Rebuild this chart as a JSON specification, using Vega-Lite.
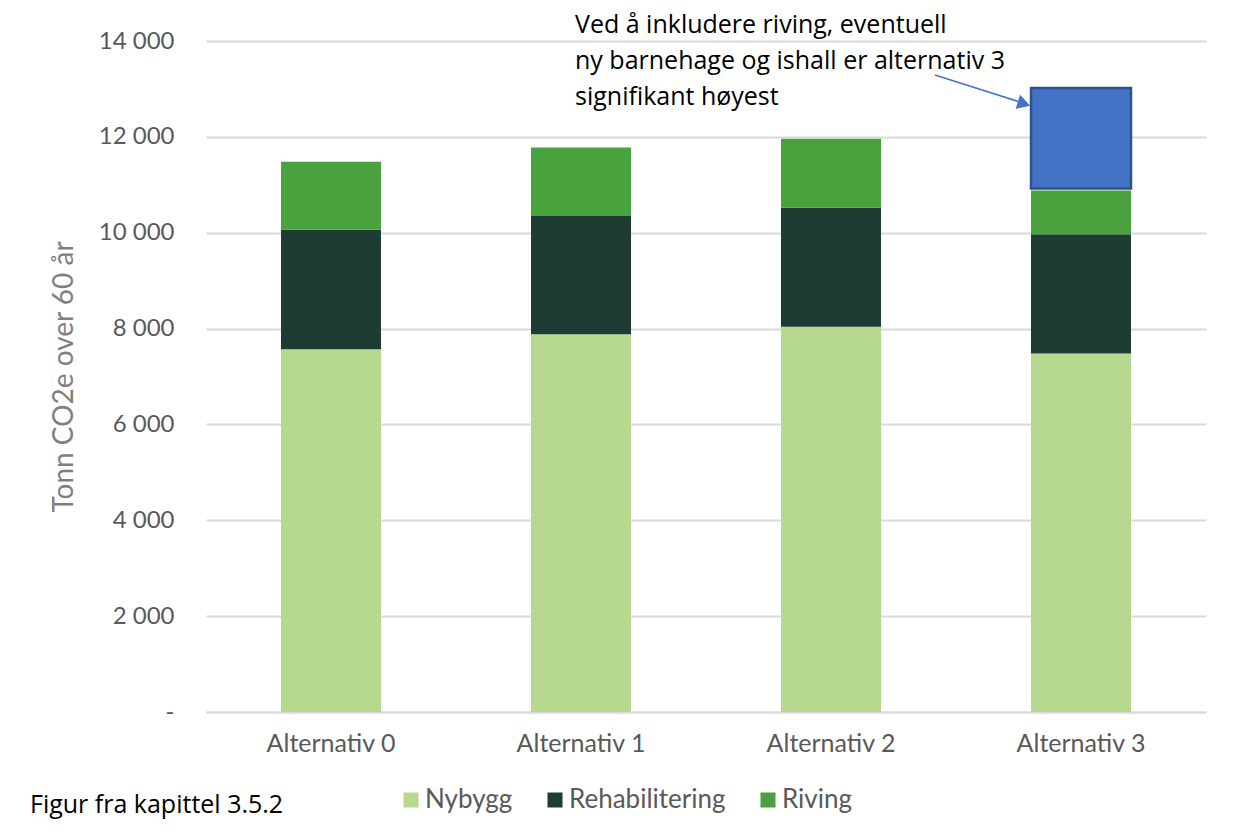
{
  "$schema": "https://vega.github.io/schema/vega-lite/v6.json",
  "width": 1000,
  "height": 671,
  "autosize": "none",
  "padding": {"left": 206, "top": 41, "right": 32, "bottom": 126},
  "background": "white",
  "config": {
    "view": {"stroke": null},
    "font": "Lato"
  },
  "datasets": {
    "bars": [
      {"alternativ": "Alternativ 0", "kategori": "Nybygg", "tonn": 7570},
      {"alternativ": "Alternativ 0", "kategori": "Rehabilitering", "tonn": 2490},
      {"alternativ": "Alternativ 0", "kategori": "Riving", "tonn": 1420},
      {"alternativ": "Alternativ 1", "kategori": "Nybygg", "tonn": 7880},
      {"alternativ": "Alternativ 1", "kategori": "Rehabilitering", "tonn": 2470},
      {"alternativ": "Alternativ 1", "kategori": "Riving", "tonn": 1430},
      {"alternativ": "Alternativ 2", "kategori": "Nybygg", "tonn": 8040},
      {"alternativ": "Alternativ 2", "kategori": "Rehabilitering", "tonn": 2480},
      {"alternativ": "Alternativ 2", "kategori": "Riving", "tonn": 1440},
      {"alternativ": "Alternativ 3", "kategori": "Nybygg", "tonn": 7480},
      {"alternativ": "Alternativ 3", "kategori": "Rehabilitering", "tonn": 2490},
      {"alternativ": "Alternativ 3", "kategori": "Riving", "tonn": 910}
    ],
    "tillegg": [
      {"alternativ": "Alternativ 3", "fra": 10920, "til": 13020}
    ],
    "pil": [
      {"u": 2.916, "v": 13290, "u2": 3.26, "v2": 12720}
    ],
    "pilhode": [
      {"u": 3.272, "v": 12690}
    ],
    "tekst": [
      {"u": 1.476, "v": 14334, "tekst": "Ved å inkludere riving, eventuell\nny barnehage og ishall er alternativ 3\nsignifikant høyest"},
      {"u": -0.704, "v": -1948, "tekst": "Figur fra kapittel 3.5.2"}
    ]
  },
  "layer": [
    {
      "data": {"name": "bars"},
      "mark": {"type": "bar"},
      "encoding": {
        "x": {
          "field": "alternativ",
          "type": "nominal",
          "scale": {"domain": ["Alternativ 0", "Alternativ 1", "Alternativ 2", "Alternativ 3"], "paddingInner": 0.6, "paddingOuter": 0.3},
          "axis": {
            "title": null,
            "labelAngle": 0,
            "labelFontSize": 25,
            "labelColor": "#595959",
            "labelPadding": 19,
            "ticks": false,
            "domainColor": "#d9d9d9",
            "domainWidth": 2
          }
        },
        "y": {
          "field": "tonn",
          "type": "quantitative",
          "stack": "zero",
          "scale": {"domain": [0, 14000], "nice": false},
          "axis": {
            "title": "Tonn CO2e over 60 år",
            "titleFontSize": 28,
            "titleFontWeight": "normal",
            "titleColor": "#7f7f7f",
            "titlePadding": 20,
            "values": [0, 2000, 4000, 6000, 8000, 10000, 12000, 14000],
            "labelExpr": "datum.value == 0 ? '-   ' : replace(format(datum.value, ','), ',', ' ')",
            "labelFontSize": 24,
            "labelColor": "#595959",
            "labelPadding": 32,
            "ticks": false,
            "domain": false,
            "gridColor": "#d9d9d9",
            "gridWidth": 2
          }
        },
        "order": {"field": "kategori", "sort": "ascending"},
        "color": {
          "field": "kategori",
          "type": "nominal",
          "scale": {"domain": ["Nybygg", "Rehabilitering", "Riving"], "range": ["#b6d98f", "#1f3c34", "#4aa23f"]},
          "legend": {
            "title": null,
            "orient": "none",
            "direction": "horizontal",
            "legendX": 192,
            "legendY": 746,
            "symbolType": "square",
            "symbolSize": 225,
            "symbolStrokeWidth": 0,
            "labelFontSize": 26,
            "labelColor": "#595959",
            "labelOffset": 1,
            "columnPadding": 29
          }
        }
      }
    },
    {
      "data": {"name": "tillegg"},
      "mark": {"type": "bar", "color": "#4472c4", "stroke": "#2f528f", "strokeWidth": 2.5},
      "encoding": {
        "x": {
          "field": "alternativ",
          "type": "nominal",
          "scale": {"domain": ["Alternativ 0", "Alternativ 1", "Alternativ 2", "Alternativ 3"], "paddingInner": 0.6, "paddingOuter": 0.3},
          "axis": null
        },
        "y": {"field": "fra", "type": "quantitative"},
        "y2": {"field": "til"}
      }
    },
    {
      "data": {"name": "pil"},
      "mark": {"type": "rule", "color": "#4472c4", "strokeWidth": 1.5},
      "encoding": {
        "x": {"field": "u", "type": "quantitative", "scale": {"domain": [0, 4], "nice": false, "zero": false}, "axis": null},
        "y": {"field": "v", "type": "quantitative"},
        "x2": {"field": "u2"},
        "y2": {"field": "v2"}
      }
    },
    {
      "data": {"name": "pilhode"},
      "mark": {"type": "point", "shape": "triangle-right", "filled": true, "color": "#4472c4", "size": 220, "angle": 17.5, "opacity": 1},
      "encoding": {
        "x": {"field": "u", "type": "quantitative", "scale": {"domain": [0, 4], "nice": false, "zero": false}, "axis": null},
        "y": {"field": "v", "type": "quantitative"}
      }
    },
    {
      "data": {"name": "tekst"},
      "mark": {"type": "text", "align": "left", "baseline": "middle", "font": "Open Sans", "fontSize": 25, "lineHeight": 36, "lineBreak": "\n", "color": "#000000"},
      "encoding": {
        "x": {"field": "u", "type": "quantitative", "scale": {"domain": [0, 4], "nice": false, "zero": false}, "axis": null},
        "y": {"field": "v", "type": "quantitative"},
        "text": {"field": "tekst"}
      }
    }
  ],
  "resolve": {"scale": {"x": "independent"}, "axis": {"x": "independent"}}
}
